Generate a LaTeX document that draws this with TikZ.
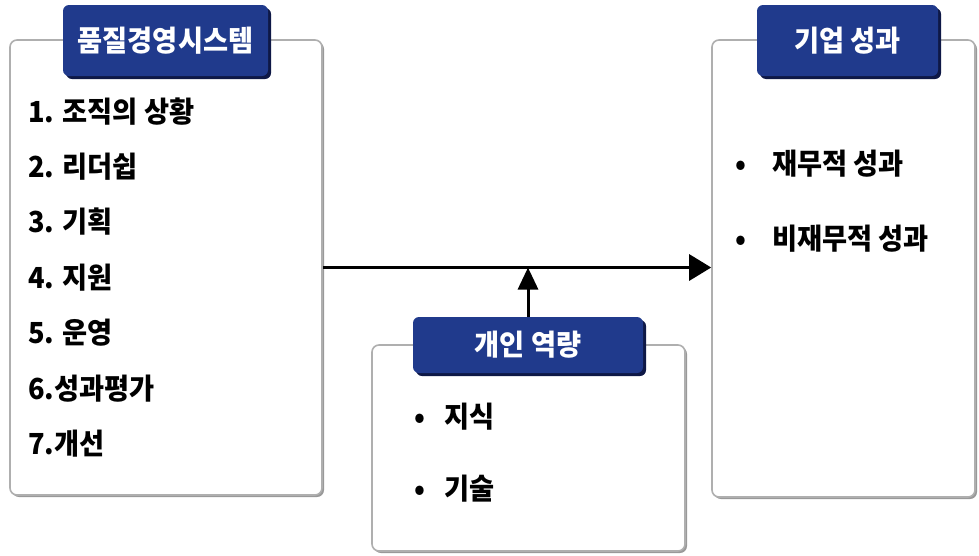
\documentclass[tikz,border=0pt]{standalone}
\usepackage{fontspec}
\setmainfont{Noto Sans CJK KR}[FakeStretch=0.94]
\usetikzlibrary{shadows,arrows.meta}
\definecolor{hdrblue}{RGB}{32,58,140}
\definecolor{hdrshadow}{RGB}{14,24,70}
\definecolor{panelline}{RGB}{175,175,175}
\begin{document}
\begin{tikzpicture}[x=1pt,y=-1pt,
  panel/.style={draw=panelline, line width=1.6pt, fill=white, rounded corners=7pt,
    drop shadow={shadow xshift=2pt, shadow yshift=-2pt, fill=gray!80, opacity=1}},
  header/.style={fill=hdrblue, rounded corners=6pt, text=white, inner sep=0pt,
    font=\fontsize{29}{31}\selectfont\bfseries,
    drop shadow={shadow xshift=3pt, shadow yshift=-3pt, fill=hdrshadow, opacity=1}},
  item/.style={anchor=west, inner sep=0pt, font=\fontsize{29}{32}\selectfont\bfseries},
  link/.style={line width=3pt, -{Triangle[length=22pt,width=26pt]}},
  uplink/.style={line width=3pt, -{Triangle[length=22pt,width=20pt]}}
]
\useasboundingbox (0,0) rectangle (979,555);
% panels
\node[panel, minimum width=312pt, minimum height=455pt] (qms) at (166,267.5) {};
\node[panel, minimum width=263pt, minimum height=457pt] (perf) at (843.5,268.5) {};
\node[panel, minimum width=313pt, minimum height=206pt] (comp) at (528.5,448) {};
% headers
\node[header, minimum width=205pt, minimum height=71pt] (qmsh) at (165.5,40.5) {품질경영시스템};
\node[header, minimum width=181pt, minimum height=71pt] (perfh) at (847.5,40.5) {기업 성과};
\node[header, minimum width=230pt, minimum height=56pt] (comph) at (528,345) {개인 역량};
% left items
\node[item] (q1) at (28,112) {1. 조직의 상황};
\node[item] (q2) at (28,167) {2. 리더쉽};
\node[item] (q3) at (28,222) {3. 기획};
\node[item] (q4) at (28,278) {4. 지원};
\node[item] (q5) at (28,333) {5. 운영};
\node[item] (q6) at (28,389) {6.성과평가};
\node[item] (q7) at (28,444) {7.개선};
% right items
\node[item] (p1) at (735,164) {•\hspace{26pt}재무적 성과};
\node[item] (p2) at (735,239) {•\hspace{26pt}비재무적 성과};
% middle items
\node[item] (c1) at (414,417) {•\hspace{19pt}지식};
\node[item] (c2) at (414,489) {•\hspace{19pt}기술};
% connectors
\draw[link] (qms.east) -- (qms.east -| perf.west);
\draw[uplink] (comph.north) -- (comph.north |- qms.east);
\end{tikzpicture}
\end{document}
